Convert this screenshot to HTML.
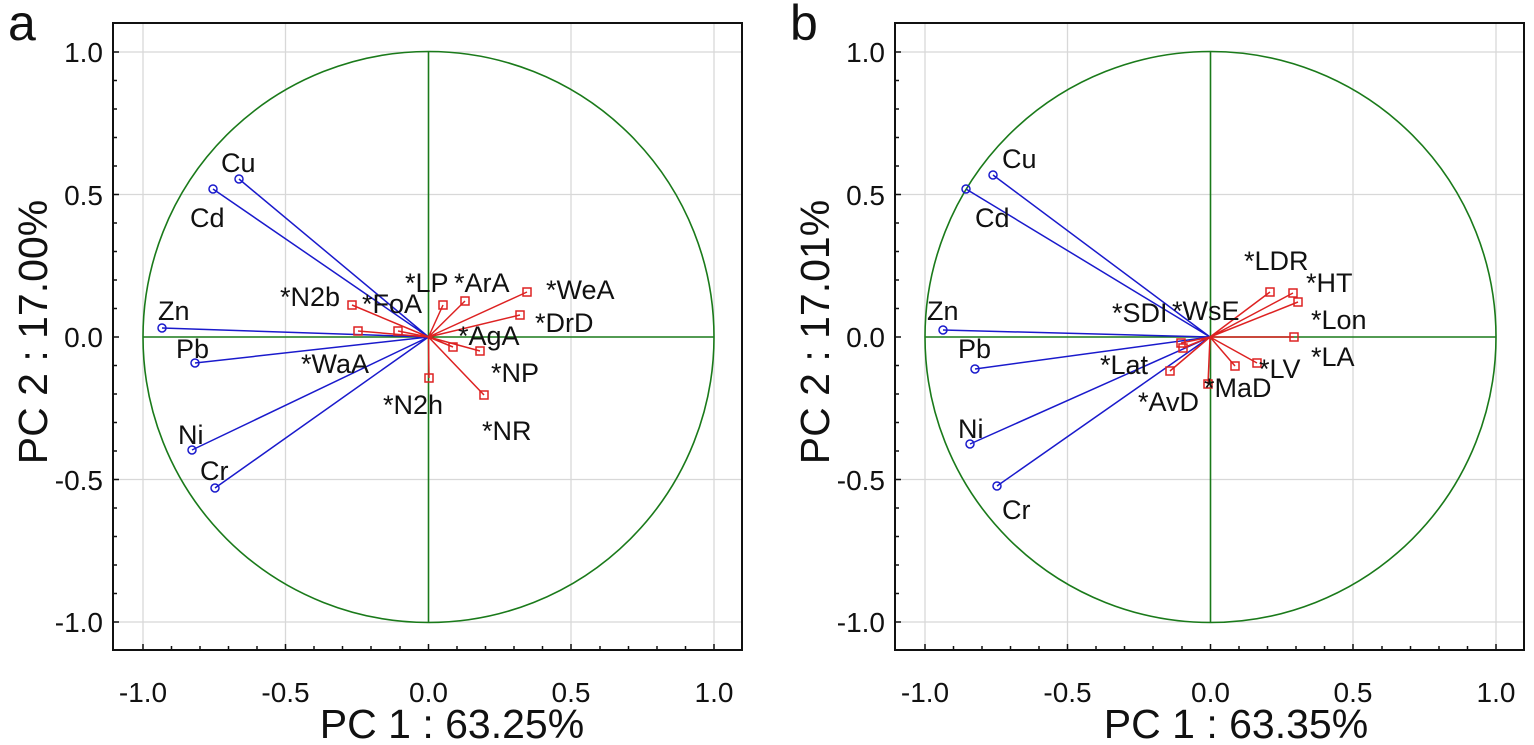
<!DOCTYPE html><html><head><meta charset="utf-8"><style>body{margin:0;background:#fff}svg{display:block}text{font-family:"Liberation Sans",sans-serif;fill:#111}</style></head><body>
<svg width="1534" height="745" viewBox="0 0 1534 745" xmlns="http://www.w3.org/2000/svg">
<defs>
<g id="grid">
<g stroke="#d8d8d8" stroke-width="1.3">
<line x1="143" y1="23" x2="143" y2="650"/><line x1="285.5" y1="23" x2="285.5" y2="650"/><line x1="571" y1="23" x2="571" y2="650"/><line x1="714" y1="23" x2="714" y2="650"/>
<line x1="113" y1="52" x2="742" y2="52"/><line x1="113" y1="194.5" x2="742" y2="194.5"/><line x1="113" y1="479.5" x2="742" y2="479.5"/><line x1="113" y1="622" x2="742" y2="622"/>
</g>
<g stroke="#1a7a1a" stroke-width="1.6" fill="none">
<circle cx="428.5" cy="337" r="285.5"/>
<line x1="428.5" y1="52" x2="428.5" y2="622"/><line x1="143" y1="337" x2="714" y2="337"/>
</g>
<rect x="113" y="23" width="629" height="627" fill="none" stroke="#111" stroke-width="2"/>
<g stroke="#111" stroke-width="1.5">
<path d="M143 650v-6M171.5 650v-4M200 650v-4M228.5 650v-4M257 650v-4M285.5 650v-6M314 650v-4M342.5 650v-4M371 650v-4M400 650v-4M428.5 650v-6M457 650v-4M485.5 650v-4M514 650v-4M542.5 650v-4M571 650v-6M600 650v-4M628.5 650v-4M657 650v-4M685.5 650v-4M714 650v-6"/>
<path d="M113 52h6M113 80.5h4M113 109h4M113 137.5h4M113 166h4M113 194.5h6M113 223h4M113 251.5h4M113 280h4M113 308.5h4M113 337h6M113 365.5h4M113 394h4M113 422.5h4M113 451h4M113 479.5h6M113 508h4M113 536.5h4M113 565h4M113 593.5h4M113 622h6"/>
</g>
<g font-size="28" text-anchor="middle">
<text x="143" y="702">-1.0</text><text x="285.5" y="702">-0.5</text><text x="428.5" y="702">0.0</text><text x="571" y="702">0.5</text><text x="714" y="702">1.0</text>
</g>
<g font-size="28" text-anchor="end">
<text x="103" y="62">1.0</text><text x="103" y="205">0.5</text><text x="103" y="347">0.0</text><text x="103" y="490">-0.5</text><text x="103" y="632">-1.0</text>
</g>
</g>
</defs>

<use href="#grid"/>
<use href="#grid" transform="translate(782,0)"/>

<text x="8" y="40" font-size="50">a</text>
<text x="790" y="40" font-size="50">b</text>
<text x="452" y="738" font-size="41" text-anchor="middle">PC 1 : 63.25%</text>
<text x="1236" y="738" font-size="41" text-anchor="middle">PC 1 : 63.35%</text>
<text transform="translate(47,332) rotate(-90)" font-size="41" text-anchor="middle">PC 2 : 17.00%</text>
<text transform="translate(829,332) rotate(-90)" font-size="41" text-anchor="middle">PC 2 : 17.01%</text>

<!-- Panel a -->
<g stroke="#1a1acc" stroke-width="1.5" fill="none">
<path d="M428.5 337L239 179M428.5 337L213 189M428.5 337L162 328M428.5 337L195 363M428.5 337L192 450M428.5 337L215 488"/>
<circle cx="239" cy="179" r="4"/><circle cx="213" cy="189" r="4"/><circle cx="162" cy="328" r="4"/><circle cx="195" cy="363" r="4"/><circle cx="192" cy="450" r="4"/><circle cx="215" cy="488" r="4"/>
</g>
<g stroke="#dd2222" stroke-width="1.5" fill="none">
<path d="M428.5 337L352 305M428.5 337L358 331M428.5 337L398 331M428.5 337L443 305M428.5 337L465 301M428.5 337L527 292M428.5 337L520 315M428.5 337L453 347M428.5 337L480 351M428.5 337L429 378M428.5 337L484 395"/>
<rect x="348" y="301" width="8" height="8"/><rect x="354" y="327" width="8" height="8"/><rect x="394" y="327" width="8" height="8"/><rect x="439" y="301" width="8" height="8"/><rect x="461" y="297" width="8" height="8"/><rect x="523" y="288" width="8" height="8"/><rect x="516" y="311" width="8" height="8"/><rect x="449" y="343" width="8" height="8"/><rect x="476" y="347" width="8" height="8"/><rect x="425" y="374" width="8" height="8"/><rect x="480" y="391" width="8" height="8"/>
</g>
<g font-size="27">
<text x="221" y="172">Cu</text><text x="190" y="227">Cd</text><text x="158" y="320">Zn</text><text x="176" y="358">Pb</text><text x="178" y="444">Ni</text><text x="200" y="480">Cr</text>
<text x="280" y="306">*N2b</text><text x="362" y="313">*FoA</text><text x="405" y="292">*LP</text><text x="454" y="292">*ArA</text><text x="546" y="299">*WeA</text><text x="535" y="332">*DrD</text><text x="458" y="345">*AgA</text><text x="491" y="382">*NP</text><text x="383" y="414">*N2h</text><text x="482" y="440">*NR</text><text x="301" y="373">*WaA</text>
</g>

<!-- Panel b -->
<g stroke="#1a1acc" stroke-width="1.5" fill="none">
<path d="M1210 337L993 175M1210 337L966 189M1210 337L943 330M1210 337L975 369M1210 337L970 444M1210 337L997 486"/>
<circle cx="993" cy="175" r="4"/><circle cx="966" cy="189" r="4"/><circle cx="943" cy="330" r="4"/><circle cx="975" cy="369" r="4"/><circle cx="970" cy="444" r="4"/><circle cx="997" cy="486" r="4"/>
</g>
<g stroke="#dd2222" stroke-width="1.5" fill="none">
<path d="M1210 337L1270 292M1210 337L1293 293M1210 337L1298 302M1210 337L1294 337M1210 337L1235 366M1210 337L1257 363M1210 337L1181 343M1210 337L1183 348M1210 337L1170 371M1210 337L1208 384"/>
<rect x="1266" y="288" width="8" height="8"/><rect x="1289" y="289" width="8" height="8"/><rect x="1294" y="298" width="8" height="8"/><rect x="1290" y="333" width="8" height="8"/><rect x="1231" y="362" width="8" height="8"/><rect x="1253" y="359" width="8" height="8"/><rect x="1177" y="339" width="8" height="8"/><rect x="1179" y="344" width="8" height="8"/><rect x="1166" y="367" width="8" height="8"/><rect x="1204" y="380" width="8" height="8"/>
</g>
<g font-size="27">
<text x="1002" y="168">Cu</text><text x="975" y="227">Cd</text><text x="927" y="320">Zn</text><text x="958" y="358">Pb</text><text x="958" y="438">Ni</text><text x="1002" y="519">Cr</text>
<text x="1244" y="270">*LDR</text><text x="1306" y="292">*HT</text><text x="1311" y="329">*Lon</text><text x="1311" y="366">*LA</text><text x="1259" y="378">*LV</text><text x="1204" y="397">*MaD</text><text x="1138" y="411">*AvD</text><text x="1100" y="374">*Lat</text><text x="1112" y="322">*SDI</text><text x="1172" y="320">*WsE</text>
</g>
</svg>
</body></html>
